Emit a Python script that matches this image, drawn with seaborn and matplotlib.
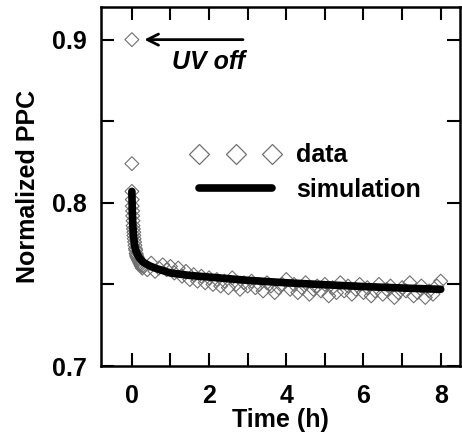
import matplotlib
matplotlib.use("Agg")
import matplotlib.pyplot as plt
from matplotlib.lines import Line2D
import seaborn as sns
import pandas as pd

# ---- data ----
early_t = [0.0, 0.0, 0.0, 0.01, 0.01, 0.02, 0.02, 0.03, 0.03, 0.04, 0.05, 0.05,
           0.06, 0.07, 0.08, 0.09, 0.10, 0.11, 0.12, 0.13, 0.15, 0.17, 0.19,
           0.21, 0.23, 0.25, 0.27]
early_v = [0.900, 0.824, 0.807, 0.802, 0.798, 0.795, 0.792, 0.789, 0.786, 0.784,
           0.782, 0.780, 0.778, 0.776, 0.774, 0.772, 0.771, 0.769, 0.768, 0.767,
           0.766, 0.765, 0.764, 0.763, 0.762, 0.761, 0.760]

late_t = [0.3, 0.4, 0.5, 0.6, 0.7, 0.8, 0.9, 1.0,
          1.1, 1.2, 1.3, 1.4, 1.5, 1.6, 1.7, 1.8, 1.9, 2.0,
          2.1, 2.2, 2.3, 2.4, 2.5, 2.6, 2.7, 2.8, 2.9, 3.0,
          3.1, 3.2, 3.3, 3.4, 3.5, 3.6, 3.7, 3.8, 3.9, 4.0,
          4.1, 4.2, 4.3, 4.4, 4.5, 4.6, 4.7, 4.8, 4.9, 5.0,
          5.1, 5.2, 5.3, 5.4, 5.5, 5.6, 5.7, 5.8, 5.9, 6.0,
          6.1, 6.2, 6.3, 6.4, 6.5, 6.6, 6.7, 6.8, 6.9, 7.0,
          7.1, 7.2, 7.3, 7.4, 7.5, 7.6, 7.7, 7.8, 7.9, 8.0]
late_v = [0.761, 0.759, 0.763, 0.758, 0.760, 0.762, 0.759, 0.761,
          0.757, 0.760, 0.755, 0.758, 0.753, 0.756, 0.752, 0.755, 0.751, 0.754,
          0.750, 0.753, 0.749, 0.752, 0.748, 0.754, 0.750, 0.747, 0.751, 0.749,
          0.752, 0.748, 0.750, 0.746, 0.751, 0.749, 0.745, 0.748, 0.750, 0.753,
          0.747, 0.750, 0.745, 0.748, 0.751, 0.744, 0.747, 0.749, 0.746, 0.750,
          0.743, 0.748, 0.745, 0.751, 0.746, 0.749, 0.744, 0.747, 0.750, 0.745,
          0.748, 0.743, 0.746, 0.750, 0.744, 0.747, 0.749, 0.742, 0.745, 0.748,
          0.746, 0.751, 0.743, 0.745, 0.749, 0.742, 0.746, 0.744, 0.749, 0.752]

sim_t = [0.0, 0.01, 0.02, 0.04, 0.07, 0.1, 0.15, 0.2, 0.3, 0.45, 0.6, 0.8, 1.0,
         1.5, 2.0, 2.5, 3.0, 4.0, 5.0, 6.0, 7.0, 8.0]
sim_v = [0.807, 0.795, 0.788, 0.780, 0.774, 0.771, 0.768, 0.766, 0.7635, 0.7615,
         0.760, 0.7585, 0.757, 0.7555, 0.7545, 0.7535, 0.7525, 0.751, 0.7498,
         0.7487, 0.7478, 0.7470]

x_ticks = [0, 2, 4, 6, 8]
y_ticks = [0.7, 0.8, 0.9]
x_label = "Time (h)"
y_label = "Normalized PPC"

data_df = pd.DataFrame({"t": early_t + late_t, "v": early_v + late_v})
sim_df = pd.DataFrame({"t": sim_t, "v": sim_v})

# ---- style ----
sns.set_style("ticks")
plt.rcParams["font.family"] = ["Liberation Sans", "DejaVu Sans"]
plt.rcParams["font.weight"] = "bold"
plt.rcParams["axes.labelweight"] = "bold"
for key in ["text.color", "axes.labelcolor", "xtick.color", "ytick.color",
            "xtick.labelcolor", "ytick.labelcolor"]:
    plt.rcParams[key] = "black"

FS = 18
fig = plt.figure(figsize=(4.62, 4.41), dpi=100)
ax = fig.add_axes([101 / 462, 1 - 366 / 441, 359 / 462, 359 / 441])

grey = "#707070"
sns.scatterplot(data=data_df, x="t", y="v", ax=ax, marker="D", s=50,
                facecolor="none", edgecolor=grey, linewidth=0.8, legend=False,
                zorder=2)
sns.lineplot(data=sim_df, x="t", y="v", ax=ax, color="black", linewidth=5.5,
             legend=False, zorder=3)

ax.set_xlim(-0.8, 8.5)
ax.set_ylim(0.7, 0.92)
ax.set_xticks(x_ticks)
ax.set_xticks([1, 3, 5, 7], minor=True)
ax.set_yticks(y_ticks)
ax.set_yticks([0.75, 0.85], minor=True)
ax.set_xticklabels([str(v) for v in x_ticks])
ax.set_yticklabels([f"{v:.1f}" for v in y_ticks])

for sp in ax.spines.values():
    sp.set_linewidth(1.8)
    sp.set_color("black")
ax.tick_params(which="both", direction="in", top=True, right=True,
               length=9.5, width=1.5, color="black")
ax.tick_params(axis="x", which="major", pad=13, labelsize=FS, labelcolor="black")
ax.tick_params(axis="y", which="major", pad=10, labelsize=FS, labelcolor="black")

ax.set_xlabel(x_label, fontsize=FS, fontweight="bold", labelpad=0, color="black")
ax.set_ylabel(y_label, fontsize=FS, fontweight="bold", labelpad=9, color="black")

# annotation
ax.annotate("", xy=(0.25, 0.9), xytext=(2.95, 0.9),
            arrowprops=dict(arrowstyle="->,head_length=0.8,head_width=0.4",
                            color="black", lw=2))
ax.text(1.03, 0.8865, "UV off", fontsize=FS, fontweight="bold",
        fontstyle="italic", va="center", ha="left", color="black")

handles = [
    Line2D([], [], marker="D", ls="none", mfc="none", mec=grey, ms=10.5,
           mew=0.9),
    Line2D([], [], color="black", lw=5.5),
]
leg = ax.legend(handles, ["data", "simulation"], numpoints=3, frameon=False,
                loc="upper left", bbox_to_anchor=(0.253, 0.62),
                borderaxespad=0, borderpad=0, handlelength=3.5,
                handletextpad=0.66, labelspacing=0.42,
                prop={"size": FS, "weight": "bold"})
for t in leg.get_texts():
    t.set_color("black")

fig.savefig("out.png", dpi=100)
